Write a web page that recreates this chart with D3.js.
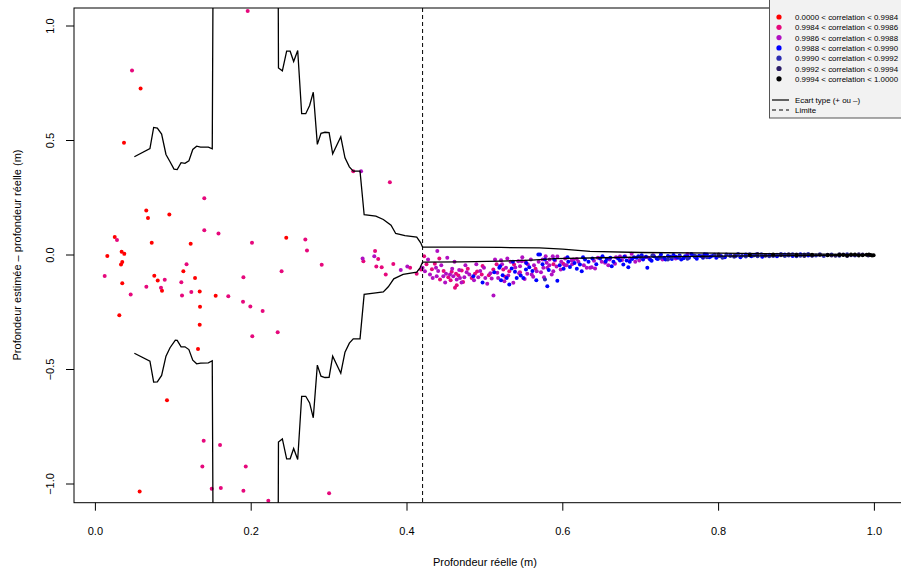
<!DOCTYPE html>
<html>
<head>
<meta charset="utf-8">
<script src="https://cdn.jsdelivr.net/npm/d3@7"></script>
<style>
  body { margin: 0; background: #fff; }
  text { font-family: "Liberation Sans", Arial, sans-serif; }
</style>
</head>
<body>
<svg id="chart" width="901" height="571"></svg>
<script>
// legend classes (correlation ranges) and their colours
const classLabels = [
  "0.0000 < correlation < 0.9984",
  "0.9984 < correlation < 0.9986",
  "0.9986 < correlation < 0.9988",
  "0.9988 < correlation < 0.9990",
  "0.9990 < correlation < 0.9992",
  "0.9992 < correlation < 0.9994",
  "0.9994 < correlation < 1.0000"
];
const classColors = ["#ff0000", "#e6087c", "#b010c2", "#0000ff", "#2c2cb0", "#2a1c66", "#000000"];

const xTicks = [0, 0.2, 0.4, 0.6, 0.8, 1.0];
const yTicks = [-1, -0.5, 0, 0.5, 1];
const limite = 0.42;

// points [x, y] per class
const ptsRed = [
  [0.0367,0.49],[0.058,0.727],[0.0653,0.194],[0.0675,0.162],[0.0949,0.177],[0.0248,0.079],
  [0.0723,0.053],[0.1223,0.049],[0.245,0.075],[0.0337,0.014],[0.0371,0.005],[0.0153,-0.004],
  [0.0329,-0.041],[0.0345,-0.031],[0.0345,-0.123],[0.0307,-0.263],[0.0756,-0.091],[0.080,-0.111],
  [0.0855,-0.156],[0.1129,-0.071],[0.1279,-0.100],[0.1339,-0.159],[0.1343,-0.226],[0.1339,-0.305],
  [0.1317,-0.41],[0.1544,-0.178],[0.0919,-0.634],[0.0568,-1.033]
];
const ptsPink = [
  [0.1955,1.066],[0.047,0.806],[0.1398,0.248],[0.1398,0.108],[0.158,0.094],[0.0277,0.066],
  [0.201,0.053],[0.2695,0.068],[0.2716,0.020],[0.0119,-0.092],[0.0453,-0.172],[0.0654,-0.139],
  [0.089,-0.108],[0.0842,-0.143],[0.117,-0.040],[0.1103,-0.119],[0.1112,-0.177],[0.1231,-0.162],
  [0.1706,-0.180],[0.190,-0.097],[0.1895,-0.204],[0.1989,-0.225],[0.2147,-0.245],[0.2014,-0.355],
  [0.234,-0.337],[0.239,-0.071],[0.2905,-0.043],[0.139,-0.811],[0.160,-0.830],[0.1373,-0.924],
  [0.193,-0.924],[0.1493,-1.021],[0.161,-1.018],[0.190,-1.03],[0.222,-1.073],[0.300,-1.04],
  [0.331,0.366],[0.378,0.318],[0.344,-0.027],[0.359,0.017],[0.363,-0.018],[0.3606,-0.050],
  [0.3675,-0.053],[0.3727,-0.085],[0.3824,-0.039],[0.404,-0.056],[0.4124,-0.082],[0.418,-0.063],
  [0.422,-0.005],[0.4415,-0.015],[0.4357,-0.038],[0.4424,-0.107],[0.453,-0.097],[0.4574,-0.073],
  [0.4629,-0.082],[0.4616,-0.143],[0.4638,-0.132],[0.4702,-0.068],[0.4873,-0.082],[0.4959,-0.085],
  [0.5108,-0.063],[0.5236,-0.063],[0.5313,-0.071],[0.5374,-0.041],[0.6006,-0.038],
  [0.425,-0.040],[0.432,-0.062],[0.447,-0.070],[0.456,-0.110],[0.466,-0.090],[0.472,-0.118],
  [0.478,-0.060],[0.483,-0.100],[0.490,-0.072],[0.497,-0.048],[0.505,-0.088],[0.515,-0.040],
  [0.526,-0.095],[0.545,-0.075],[0.552,-0.030],[0.565,-0.060],[0.588,-0.040]
];
const ptsPurple = [
  [0.341,0.366],[0.343,-0.015],[0.358,-0.005],[0.392,-0.065],[0.4004,-0.050],
  [0.4389,0.017],[0.4517,-0.012],[0.420,-0.056],[0.423,-0.071],[0.4295,-0.085],[0.4372,-0.056],
  [0.4381,-0.093],[0.4466,-0.093],[0.4501,-0.082],[0.4552,-0.085],[0.4594,-0.093],[0.4638,-0.107],
  [0.468,-0.100],[0.4736,-0.097],[0.4766,-0.075],[0.4915,-0.097],[0.4988,-0.056],[0.5005,-0.100],
  [0.5087,-0.103],[0.513,-0.020],[0.5159,-0.078],[0.5207,-0.023],[0.5288,-0.015],[0.5271,-0.056],
  [0.5365,-0.121],[0.5429,-0.027],[0.5451,-0.049],[0.5472,-0.027],[0.5544,-0.082],[0.5601,-0.085],
  [0.563,-0.045],[0.5665,-0.071],
  [0.5742,-0.020],[0.5793,-0.034],[0.575,-0.056],[0.5801,-0.056],[0.5827,-0.045],[0.5871,-0.005],
  [0.593,-0.007],[0.59,-0.024],[0.5878,-0.071],[0.5858,-0.085],[0.5759,-0.097],[0.5973,-0.063],
  [0.6028,-0.045],[0.605,-0.045],[0.6114,-0.024],[0.6135,-0.020],[0.6179,-0.017],[0.6307,-0.056],
  [0.635,-0.056],[0.6371,-0.053],[0.6414,-0.059],[0.65,-0.030],[0.6542,-0.034],[0.6584,-0.045],
  [0.667,-0.038],[0.6683,-0.010],[0.6734,-0.007],[0.6863,-0.015],[0.6884,0.005],[0.6982,-0.024],
  [0.7055,-0.010],[0.7162,-0.001],
  [0.427,-0.020],[0.433,-0.100],[0.440,-0.070],[0.444,-0.045],[0.449,-0.120],[0.458,-0.060],
  [0.461,-0.030],[0.467,-0.065],[0.470,-0.120],[0.475,-0.045],[0.480,-0.085],[0.486,-0.110],
  [0.489,-0.040],[0.494,-0.070],[0.503,-0.125],[0.507,-0.080],[0.511,-0.177],[0.517,-0.100],
  [0.522,-0.040],[0.525,-0.115],[0.530,-0.090],[0.533,-0.030],[0.539,-0.055],[0.544,-0.080],
  [0.548,-0.010],[0.551,-0.105],[0.555,-0.040],[0.559,-0.020],[0.562,-0.095],[0.569,-0.030],
  [0.572,-0.075],[0.578,-0.005],[0.583,-0.020],[0.592,-0.050],[0.598,-0.030],[0.603,-0.015],
  [0.612,-0.040],[0.620,-0.030],[0.627,-0.045],[0.640,-0.025],[0.645,-0.012],[0.660,-0.020],
  [0.676,-0.022],[0.680,-0.005],[0.693,-0.030],[0.710,-0.012],[0.728,-0.020],[0.745,-0.015],
  [0.760,0.004]
];
const ptsBlue = [
  [0.4851,-0.093],[0.5185,-0.056],[0.5194,-0.049],[0.5228,-0.088],[0.5207,-0.110],[0.5344,-0.059],
  [0.5386,-0.073],[0.5408,-0.100],[0.5313,-0.129],[0.5493,-0.100],[0.5527,-0.063],[0.557,-0.053],
  [0.5686,0.002],[0.5707,0.002],[0.5771,-0.020],[0.5801,-0.136],[0.593,-0.112],[0.607,-0.030],
  [0.6092,-0.052],[0.622,-0.041],[0.6243,-0.071],[0.6285,-0.020],[0.6478,-0.015],[0.6564,-0.017],
  [0.6628,-0.049],[0.6734,-0.024],[0.6777,-0.041],[0.682,-0.024],[0.6841,-0.053],[0.6914,-0.010],
  [0.6949,-0.012],[0.7013,-0.001],[0.7085,-0.056],[0.712,-0.020],[0.7205,-0.015],[0.7239,-0.010],
  [0.73,-0.012],[0.735,-0.004],[0.74,-0.018],[0.745,-0.008],[0.75,-0.002],[0.755,-0.014],
  [0.76,-0.006],[0.765,0.004],[0.77,-0.010],[0.775,-0.003],[0.78,-0.012],[0.785,0.002],[0.79,-0.007],
  [0.497,-0.120],[0.512,-0.075],[0.528,-0.100],[0.536,-0.030],[0.546,-0.090],[0.553,-0.035],
  [0.561,-0.070],[0.566,-0.110],[0.574,-0.040],[0.582,-0.065],[0.589,-0.020],[0.596,-0.045],
  [0.601,-0.060],[0.606,-0.010],[0.615,-0.035],[0.618,-0.060],[0.626,-0.010],[0.633,-0.030],
  [0.638,-0.015],[0.643,-0.040],[0.651,-0.005],[0.655,-0.028],[0.661,-0.012],[0.665,-0.030],
  [0.671,-0.015],[0.679,-0.008],[0.686,-0.030],[0.689,-0.018],[0.697,-0.005],[0.703,-0.020],
  [0.707,-0.008],[0.714,-0.025],[0.717,-0.005],[0.722,-0.018],[0.726,0.002],[0.732,-0.020],
  [0.738,-0.008],[0.742,0.000],[0.748,-0.012],[0.752,-0.020],[0.757,-0.005],[0.762,-0.012],
  [0.768,-0.002],[0.772,-0.016],[0.778,-0.006],[0.782,0.003],[0.788,-0.010],[0.793,-0.002],
  [0.797,-0.012],[0.803,-0.004],[0.808,-0.010],[0.815,0.000],[0.822,-0.004],[0.828,-0.010],
  [0.835,0.002],[0.842,-0.006],[0.848,0.002],[0.856,-0.008],[0.865,0.001],[0.875,-0.005],
  [0.885,0.002],[0.895,-0.004],[0.905,0.003],[0.915,-0.002]
];
const ptsDarkBlue = [
  [0.5771,-0.107],[0.74,-0.010],[0.76,-0.016],[0.80,-0.006],[0.81,0.002],[0.82,-0.008],[0.83,-0.003],
  [0.84,0.003],[0.85,-0.006],[0.86,0.000],[0.87,-0.004],[0.88,0.004],[0.89,-0.002],[0.90,-0.006],
  [0.91,0.002],[0.92,-0.003],[0.93,0.003],
  [0.70,-0.010],[0.715,-0.002],[0.725,-0.012],[0.735,-0.020],[0.750,-0.008],[0.770,-0.004],
  [0.785,-0.010],[0.795,0.001],[0.805,-0.012],[0.815,-0.004],[0.825,0.004],[0.835,-0.007],
  [0.845,-0.002],[0.855,0.003],[0.865,-0.005],[0.875,0.001],[0.885,-0.004],[0.895,0.003],
  [0.905,-0.003],[0.915,0.004],[0.925,-0.002],[0.935,-0.004],[0.945,0.002],[0.955,-0.003],
  [0.965,0.003],[0.975,-0.002]
];
const ptsNavy = [
  [0.86,-0.003],[0.88,-0.001],[0.90,0.002],[0.92,-0.002],[0.94,0.001],[0.95,-0.003],[0.96,0.002],
  [0.97,-0.001],[0.98,0.003],
  [0.78,-0.008],[0.80,0.002],[0.82,-0.004],[0.84,-0.001],[0.85,0.004],[0.87,0.000],[0.89,0.003],
  [0.91,-0.004],[0.93,0.000],[0.945,-0.002],[0.955,0.003],[0.965,-0.004],[0.975,0.000],
  [0.985,0.002],[0.992,-0.002]
];
const ptsBlack = [
  [0.955,0.000],[0.965,-0.002],[0.975,0.002],[0.985,-0.001],[0.99,0.001],[0.995,0.000],[0.999,-0.001],
  [0.84,0.000],[0.87,0.002],[0.90,-0.001],[0.92,0.001],[0.94,-0.001],[0.96,0.000],[0.97,0.002],
  [0.98,-0.002],[0.993,0.002],[0.997,-0.002]
];
const pointsByClass = [ptsRed, ptsPink, ptsPurple, ptsBlue, ptsDarkBlue, ptsNavy, ptsBlack];

// ecart type lines [x, y]
const sdUpper = [
  [0.050,0.429],[0.070,0.465],[0.0748,0.557],[0.0795,0.554],[0.085,0.528],[0.0906,0.439],
  [0.0958,0.407],[0.1009,0.375],[0.105,0.373],[0.110,0.403],[0.115,0.400],[0.120,0.411],
  [0.125,0.461],[0.130,0.475],[0.135,0.471],[0.145,0.471],[0.150,0.464],[0.152,1.9],[0.234,1.9],
  [0.235,0.817],[0.240,0.804],[0.2455,0.890],[0.250,0.890],[0.2545,0.845],[0.2597,0.893],
  [0.2648,0.617],[0.270,0.617],[0.275,0.653],[0.2797,0.711],[0.2849,0.483],[0.2896,0.531],
  [0.2947,0.536],[0.300,0.534],[0.3046,0.442],[0.315,0.516],[0.3204,0.424],[0.326,0.385],
  [0.331,0.366],[0.3397,0.366],[0.345,0.176],[0.360,0.170],[0.3696,0.155],[0.3795,0.130],
  [0.3855,0.094],[0.3974,0.085],[0.4125,0.078],[0.4176,0.053],[0.420,0.034],
  [0.47,0.034],[0.52,0.033],[0.57,0.031],[0.60,0.026],[0.635,0.016],[0.70,0.011],[0.80,0.008],
  [0.90,0.005],[1.0,0.002]
];
const sdLower = [
  [0.050,-0.429],[0.070,-0.464],[0.0748,-0.555],[0.0795,-0.554],[0.085,-0.526],[0.0906,-0.442],
  [0.0958,-0.405],[0.1026,-0.372],[0.105,-0.373],[0.110,-0.401],[0.115,-0.401],[0.120,-0.413],
  [0.125,-0.459],[0.130,-0.475],[0.135,-0.472],[0.145,-0.471],[0.150,-0.462],[0.152,-1.9],[0.234,-1.9],
  [0.235,-0.817],[0.240,-0.803],[0.2455,-0.890],[0.250,-0.890],[0.2545,-0.845],[0.2597,-0.893],
  [0.2648,-0.617],[0.270,-0.617],[0.275,-0.646],[0.2797,-0.711],[0.2849,-0.481],[0.2896,-0.529],
  [0.2947,-0.535],[0.300,-0.534],[0.3046,-0.442],[0.315,-0.516],[0.3204,-0.424],[0.326,-0.385],
  [0.331,-0.366],[0.3397,-0.366],[0.345,-0.172],[0.360,-0.165],[0.3696,-0.161],[0.376,-0.139],
  [0.383,-0.104],[0.395,-0.085],[0.4125,-0.075],[0.4167,-0.056],[0.420,-0.031],
  [0.47,-0.030],[0.52,-0.027],[0.56,-0.022],[0.59,-0.016],[0.65,-0.012],[0.72,-0.008],[0.80,-0.005],
  [0.90,-0.003],[1.0,-0.001]
];

const svg = d3.select("#chart");
const x = d3.scaleLinear().domain([0, 1]).range([95.4, 874.4]);
const y = d3.scaleLinear().domain([-1, 1]).range([484, 26]);
const box = {x1: 74, y1: 8, x2: 930, y2: 502.7};

svg.append("clipPath").attr("id", "clip")
  .append("rect").attr("x", box.x1).attr("y", box.y1)
  .attr("width", box.x2 - box.x1).attr("height", box.y2 - box.y1);

const plot = svg.append("g").attr("clip-path", "url(#clip)");

// points
pointsByClass.forEach((pts, i) => {
  plot.append("g").selectAll("circle").data(pts).enter()
    .append("circle")
    .attr("cx", d => x(d[0]))
    .attr("cy", d => y(d[1]))
    .attr("r", 2)
    .attr("fill", classColors[i]);
});

// ecart type
const line = d3.line().x(d => x(d[0])).y(d => y(d[1]));
[sdUpper, sdLower].forEach(s => {
  plot.append("path").datum(s).attr("d", line)
    .attr("fill", "none").attr("stroke", "#000").attr("stroke-width", 1.3);
});

// limite
plot.append("line")
  .attr("x1", x(limite)).attr("x2", x(limite))
  .attr("y1", box.y1).attr("y2", box.y2)
  .attr("stroke", "#000").attr("stroke-width", 1).attr("stroke-dasharray", "4,3");

// frame
svg.append("rect").attr("x", box.x1).attr("y", box.y1)
  .attr("width", box.x2 - box.x1).attr("height", box.y2 - box.y1)
  .attr("fill", "none").attr("stroke", "#000").attr("stroke-width", 1);

// x axis
const gx = svg.append("g");
gx.selectAll("line").data(xTicks).enter().append("line")
  .attr("x1", d => x(d)).attr("x2", d => x(d))
  .attr("y1", box.y2).attr("y2", box.y2 + 8)
  .attr("stroke", "#000");
gx.selectAll("text").data(xTicks).enter().append("text")
  .attr("x", d => x(d)).attr("y", 535)
  .attr("text-anchor", "middle").attr("font-size", 11)
  .text(d => d.toFixed(1));
svg.append("text").attr("x", x(0.5)).attr("y", 566)
  .attr("text-anchor", "middle").attr("font-size", 11)
  .text("Profondeur réelle (m)");

// y axis
const gy = svg.append("g");
gy.selectAll("line").data(yTicks).enter().append("line")
  .attr("x1", box.x1 - 8).attr("x2", box.x1)
  .attr("y1", d => y(d)).attr("y2", d => y(d))
  .attr("stroke", "#000");
gy.selectAll("text").data(yTicks).enter().append("text")
  .attr("transform", d => `translate(54,${y(d)}) rotate(-90)`)
  .attr("text-anchor", "middle").attr("font-size", 11)
  .text(d => d === 0 ? "0.0" : d3.format(".1f")(d).replace("-", "\u2212"));
svg.append("text")
  .attr("transform", `translate(21,${y(0)}) rotate(-90)`)
  .attr("text-anchor", "middle").attr("font-size", 11)
  .text("Profondeur estimée \u2013 profondeur réelle (m)");

// legend
const lg = svg.append("g");
lg.append("rect").attr("x", 769.5).attr("y", -2).attr("width", 200).attr("height", 120)
  .attr("fill", "#f2f2f2").attr("stroke", "#555").attr("stroke-width", 1);
classLabels.forEach((lab, i) => {
  const ly = 17 + i * 10.3;
  lg.append("circle").attr("cx", 779).attr("cy", ly).attr("r", 2.6).attr("fill", classColors[i]);
  lg.append("text").attr("x", 795).attr("y", ly + 3).attr("font-size", 7.9).text(lab);
});
lg.append("line").attr("x1", 772).attr("x2", 789).attr("y1", 100).attr("y2", 100)
  .attr("stroke", "#000").attr("stroke-width", 1.2);
lg.append("text").attr("x", 795).attr("y", 103).attr("font-size", 7.9).text("Ecart type (+ ou \u2013)");
lg.append("line").attr("x1", 772).attr("x2", 789).attr("y1", 110).attr("y2", 110)
  .attr("stroke", "#000").attr("stroke-width", 1).attr("stroke-dasharray", "4,3");
lg.append("text").attr("x", 795).attr("y", 113).attr("font-size", 7.9).text("Limite");
</script>
</body>
</html>
